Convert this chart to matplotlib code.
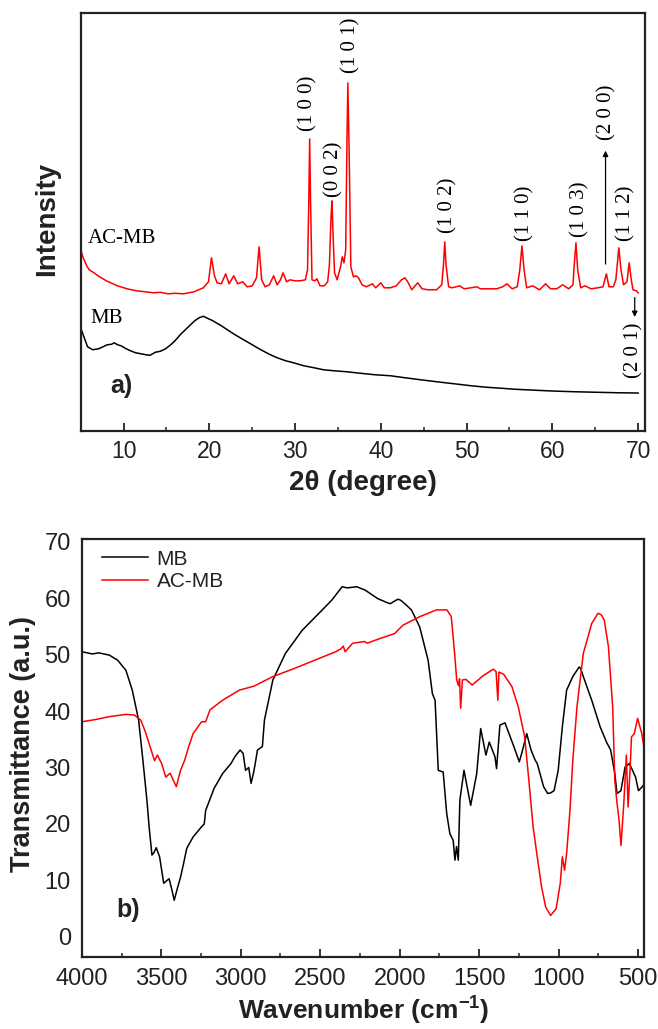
import matplotlib
matplotlib.use("Agg")
import matplotlib.pyplot as plt
from matplotlib.ticker import MultipleLocator
import numpy as np

plt.rcParams['font.family'] = ['Liberation Sans', 'DejaVu Sans']
plt.rcParams['mathtext.fontset'] = 'custom'
plt.rcParams['mathtext.rm'] = 'Liberation Sans:bold'
plt.rcParams['mathtext.bf'] = 'Liberation Sans:bold'
plt.rcParams['mathtext.default'] = 'bf'

# ---------------- XRD data (a) ----------------
xrd_acmb_2theta = [5.0, 5.3, 5.7, 6.0, 6.55, 7.2, 8.0, 8.5, 9.3, 10.4, 11.5, 12.5, 13.5, 14.3, 15.2,
                   16.0, 17.0, 18.2, 19.3, 19.9, 20.25, 20.6, 20.9, 21.4, 21.9, 22.3, 22.85, 23.3,
                   23.9, 24.4, 25.0, 25.5, 25.8, 26.1, 26.5, 27.0, 27.5, 27.9, 28.3, 28.6, 29.0,
                   29.4, 30.0, 30.6, 31.2, 31.45, 31.6, 31.7, 31.8, 31.97, 32.3, 32.55, 32.9, 33.4,
                   33.8, 34.0, 34.2, 34.3, 34.45, 34.6, 34.9, 35.3, 35.5, 35.7, 35.9, 36.05, 36.15,
                   36.3, 36.5, 36.8, 37.1, 37.4, 37.8, 38.3, 39.0, 39.4, 40.0, 40.4, 41.1, 41.8,
                   42.4, 42.8, 43.2, 43.6, 44.3, 44.8, 45.5, 46.5, 47.1, 47.3, 47.45, 47.6, 47.9,
                   48.3, 49.2, 49.7, 50.5, 51.2, 51.6, 52.5, 53.5, 54.2, 54.7, 55.3, 55.9, 56.2,
                   56.45, 56.7, 57.0, 57.7, 58.5, 59.2, 59.8, 60.5, 61.2, 61.9, 62.4, 62.55, 62.75,
                   62.95, 63.3, 63.8, 64.5, 65.3, 65.9, 66.3, 66.6, 67.1, 67.4, 67.75, 68.0, 68.3,
                   68.7, 68.95, 69.2, 69.4, 69.8, 70.0]
xrd_acmb_pix = [250, 258, 266, 270, 273, 277, 281, 283, 286, 289, 291, 292, 293, 292.5, 294,
                293.5, 294, 292, 288, 282, 258, 276, 283, 284, 274, 284, 276, 284,
                282, 287, 286, 278, 247, 280, 287, 285, 276, 285, 280, 273, 282,
                280, 281, 281, 280, 270, 200, 139, 200, 280, 281, 279, 286, 286,
                282, 265, 215, 201, 240, 273, 280, 267, 257, 263, 250, 140, 83,
                150, 267, 277, 276, 278, 285, 287, 284, 288, 283, 288, 288, 286,
                280, 278, 283, 290, 283, 289, 290, 290, 285, 265, 242, 265, 287,
                288, 286, 289, 288, 287, 289, 289, 289, 287, 284, 289, 287, 270,
                246, 270, 288, 286, 290, 284, 289, 289, 285, 289, 285, 265, 243,
                270, 288, 286, 289, 288, 287, 274, 287, 287, 280, 248, 270, 285,
                282, 263, 280, 290, 291, 293]
xrd_acmb_int = [431 - p for p in xrd_acmb_pix]

xrd_mb_2theta = [5.0, 5.2, 5.8, 6.4, 7.1, 7.6, 8.1, 8.6, 8.9, 9.3, 9.7, 10.3, 10.8, 11.4, 12.0,
                 12.6, 13.1, 13.7, 14.3, 14.9, 15.5, 16.0, 16.6, 17.2, 17.8, 18.3, 18.8, 19.3,
                 19.9, 20.3, 20.7, 21.4, 22.1, 23.0, 24.0, 25.0, 26.0, 27.0, 27.9, 28.9, 29.8,
                 31.0, 32.2, 33.3, 34.5, 36.0, 37.6, 39.3, 41.1, 42.8, 44.6, 46.5, 48.5, 50.5,
                 52.3, 54.0, 55.6, 58.0, 60.0, 62.5, 65.0, 67.5, 70.0]
xrd_mb_pix = [328, 333, 347, 350, 349, 347, 345, 344.5, 343, 345, 346, 349, 351, 353, 354,
              355, 355.5, 352.5, 351.5, 349, 345, 341, 335, 330, 325, 321, 318, 316.5,
              319, 320.5, 322.5, 326, 330, 335, 340, 345, 350, 354.5, 358, 361, 363,
              366, 368, 370, 371, 372, 373.5, 375, 376, 378, 380, 382, 384, 386,
              387.5, 388.5, 389.5, 390.5, 391.3, 392, 392.5, 393, 393.3]
xrd_mb_int = [431 - p for p in xrd_mb_pix]

hkl_labels = ['(1 0 0)', '(0 0 2)', '(1 0 1)', '(1 0 2)', '(1 1 0)', '(1 0 3)', '(2 0 0)', '(1 1 2)']
hkl_x = [31.5, 34.5, 36.5, 47.8, 56.8, 63.2, 66.3, 68.6]
hkl_y = [300, 234, 358, 198, 190, 194, 291, 190]

# ---------------- FTIR data (b) ----------------
ftir_mb_wn = [4000, 3934, 3894, 3828, 3775, 3723, 3683, 3643, 3615, 3590, 3577, 3559, 3545, 3532,
              3511, 3485, 3465, 3451, 3435, 3419, 3400, 3379, 3360, 3340, 3300, 3247, 3230,
              3221, 3168, 3115, 3062, 3035, 3004, 2985, 2970, 2950, 2935, 2920, 2909, 2895,
              2864, 2851, 2798, 2719, 2613, 2508, 2428, 2362, 2330, 2270, 2217, 2138, 2080,
              2059, 2030, 2010, 1993, 1960, 1926, 1874, 1821, 1794, 1777, 1757, 1726, 1704,
              1684, 1663, 1652, 1642, 1631, 1621, 1595, 1553, 1515, 1490, 1457, 1436, 1400,
              1390, 1369, 1337, 1285, 1247, 1226, 1200, 1173, 1147, 1134, 1094, 1068, 1050,
              1028, 1002, 976, 949, 910, 870, 860, 844, 791, 738, 698, 672, 646, 632, 607,
              581, 554, 515, 497, 476, 462]
ftir_mb_t = [50.5, 50.1, 50.3, 49.9, 49.0, 47.2, 43.7, 38.4, 31.0, 24.0, 19.5, 14.5, 15.0, 15.8,
             14.2, 9.5, 10.0, 10.3, 8.5, 6.5, 8.5, 10.6, 13.0, 15.7, 17.7, 19.5, 20.0,
             22.4, 26.3, 28.9, 30.7, 32.0, 33.1, 32.5, 29.5, 30.0, 27.2, 29.0, 30.7, 33.1,
             33.7, 38.4, 45.5, 50.2, 54.3, 57.3, 59.6, 62.0, 61.8, 62.0, 61.4, 59.9, 59.2,
             59.0, 59.5, 59.8, 59.6, 58.8, 57.9, 54.9, 49.0, 43.1, 41.9, 29.5, 29.2, 21.9,
             18.3, 17.1, 13.6, 16.0, 13.6, 24.2, 29.5, 23.3, 28.9, 36.9, 32.2, 34.5, 31.9,
             29.8, 37.5, 37.9, 34.0, 31.0, 33.1, 36.0, 33.1, 31.3, 30.7, 26.6, 25.4, 25.5,
             25.9, 29.5, 37.2, 43.7, 46.1, 47.8, 47.5, 46.1, 41.9, 37.2, 34.5, 33.1, 29.0, 25.4, 25.9,
             30.1, 30.7, 28.3, 25.9, 26.5, 27.0]

ftir_acmb_wn = [4000, 3912, 3828, 3723, 3670, 3630, 3604, 3564, 3543, 3525, 3498, 3472, 3445, 3406,
                3379, 3353, 3330, 3300, 3247, 3221, 3194, 3115, 3009, 2917, 2798, 2666, 2534,
                2402, 2370, 2355, 2343, 2296, 2220, 2204, 2138, 2032, 1979, 1874, 1768, 1702,
                1675, 1654, 1641, 1630, 1623, 1616, 1605, 1583, 1543, 1477, 1411, 1393, 1382,
                1375, 1345, 1293, 1253, 1213, 1187, 1160, 1134, 1107, 1081, 1050, 1015, 989,
                976, 962, 949, 928, 910, 884, 844, 791, 752, 730, 712, 686, 659, 646, 632,
                620, 607, 589, 573, 562, 549, 541, 523, 502, 476, 463]
ftir_acmb_t = [38.1, 38.5, 39.0, 39.4, 39.3, 38.4, 36.6, 33.1, 31.2, 32.2, 30.7, 28.3, 29.0, 26.6,
               29.5, 31.3, 33.5, 36.0, 38.1, 38.1, 40.2, 41.9, 43.7, 44.4, 46.1, 47.5, 49.0,
               50.5, 51.0, 51.5, 50.5, 52.0, 52.3, 52.0, 52.7, 53.7, 55.2, 56.7, 57.9, 57.9,
               56.7, 50.2, 45.5, 44.5, 45.7, 40.5, 45.5, 45.6, 44.6, 46.2, 47.4, 47.0, 41.9,
               46.9, 46.5, 44.3, 40.7, 35.4, 27.8, 19.5, 14.2, 8.9, 5.3, 3.8, 5.0, 9.5,
               14.2, 11.8, 14.8, 22.4, 31.3, 40.7, 50.2, 55.5, 57.3, 57.0, 56.1, 51.4, 40.7, 27.8, 23.7,
               21.0, 16.2, 23.7, 32.2, 23.0, 30.0, 35.4, 36.0, 38.7, 36.0, 33.7]

W, H = 658, 1029
fig = plt.figure(figsize=(W / 100, H / 100), dpi=100)
dark = '#222222'
LW = 1.1

def frac_box(l, r, t, b):
    return [l / W, 1 - b / H, (r - l) / W, (b - t) / H]

# ---------------- panel a ----------------
ax1 = fig.add_axes(frac_box(80.7, 645, 12.7, 430.7))
ax1.plot(xrd_acmb_2theta, xrd_acmb_int, color='#ff0000', lw=LW)
ax1.plot(xrd_mb_2theta, xrd_mb_int, color='black', lw=LW)
ax1.set_xlim(5, 70.8)
ax1.set_ylim(0, 418.3)
ax1.xaxis.set_major_locator(MultipleLocator(10))
ax1.xaxis.set_minor_locator(MultipleLocator(5))
ax1.set_yticks([])
ax1.tick_params(axis='x', which='major', direction='in', length=5.5, width=1.3,
                labelsize=16.5, pad=7, colors=dark, labelcolor=dark)
ax1.tick_params(axis='x', which='minor', direction='in', length=3, width=1.1, colors=dark)
for s in ax1.spines.values():
    s.set_linewidth(1.6)
    s.set_color(dark)

serif = ['Liberation Serif', 'DejaVu Serif']
for lab, x, y in zip(hkl_labels, hkl_x, hkl_y):
    ax1.text(x, y, lab, rotation=90, ha='center', va='bottom', fontsize=15, family=serif)
ax1.text(69.5, 108, '(2 0 1)', rotation=90, ha='center', va='top', fontsize=15, family=serif)
ax1.annotate('', xy=(66.2, 283), xytext=(66.2, 164),
             arrowprops=dict(arrowstyle='-|>', color='black', lw=0.9, mutation_scale=8))
ax1.annotate('', xy=(69.6, 111), xytext=(69.6, 136),
             arrowprops=dict(arrowstyle='-|>', color='black', lw=0.9, mutation_scale=8))
ax1.text(5.85, 188, 'AC-MB', fontsize=15, family=serif, va='baseline')
ax1.text(6.16, 107.7, 'MB', fontsize=15, family=serif, va='baseline')
ax1.text(8.5, 38, 'a)', fontsize=18, fontweight='bold', va='baseline', color=dark)

fig.text(47 / W, 1 - 219 / H, 'Intensity', rotation=90, ha='center', va='center',
         fontsize=20, fontweight='bold', color=dark)
fig.text(362.5 / W, 1 - 482.5 / H, '2θ (degree)', ha='center', va='center',
         fontsize=20, fontweight='bold', color=dark)

# ---------------- panel b ----------------
ax2 = fig.add_axes(frac_box(81.9, 644, 539.3, 957.3))
ax2.plot(ftir_mb_wn, ftir_mb_t, color='black', lw=LW, label='MB')
ax2.plot(ftir_acmb_wn, ftir_acmb_t, color='#ff0000', lw=LW, label='AC-MB')
ax2.set_xlim(4000, 462)
ax2.set_ylim(-3.6, 70.4)
ax2.xaxis.set_major_locator(MultipleLocator(500))
ax2.xaxis.set_minor_locator(MultipleLocator(250))
ax2.yaxis.set_major_locator(MultipleLocator(10))
ax2.tick_params(axis='x', which='major', direction='in', length=5.5, width=1.3,
                labelsize=17, pad=8, colors=dark, labelcolor=dark)
ax2.tick_params(axis='x', which='minor', direction='in', length=3, width=1.1, colors=dark)
ax2.tick_params(axis='y', which='major', length=0, labelsize=17, pad=8, labelcolor=dark)
for s in ax2.spines.values():
    s.set_linewidth(1.6)
    s.set_color(dark)

leg = ax2.legend(loc='upper left', bbox_to_anchor=(0.035, 0.975), frameon=False,
                 fontsize=15, handlelength=2.24, handletextpad=0.4, labelspacing=0.15,
                 borderpad=0, borderaxespad=0)
for t in leg.get_texts():
    t.set_color(dark)

ax2.text(3781, 3.5, 'b)', fontsize=18, fontweight='bold', va='baseline', color=dark)

fig.text(23 / W, 1 - 744.5 / H, 'Transmittance (a.u.)', rotation=90, ha='center', va='center',
         fontsize=19.5, fontweight='bold', color=dark)
fig.text(364 / W, 1 - 1011 / H, 'Wavenumber (cm$^{-1}$)', ha='center', va='center',
         fontsize=19, fontweight='bold', color=dark)

fig.savefig('out.png', dpi=100)
